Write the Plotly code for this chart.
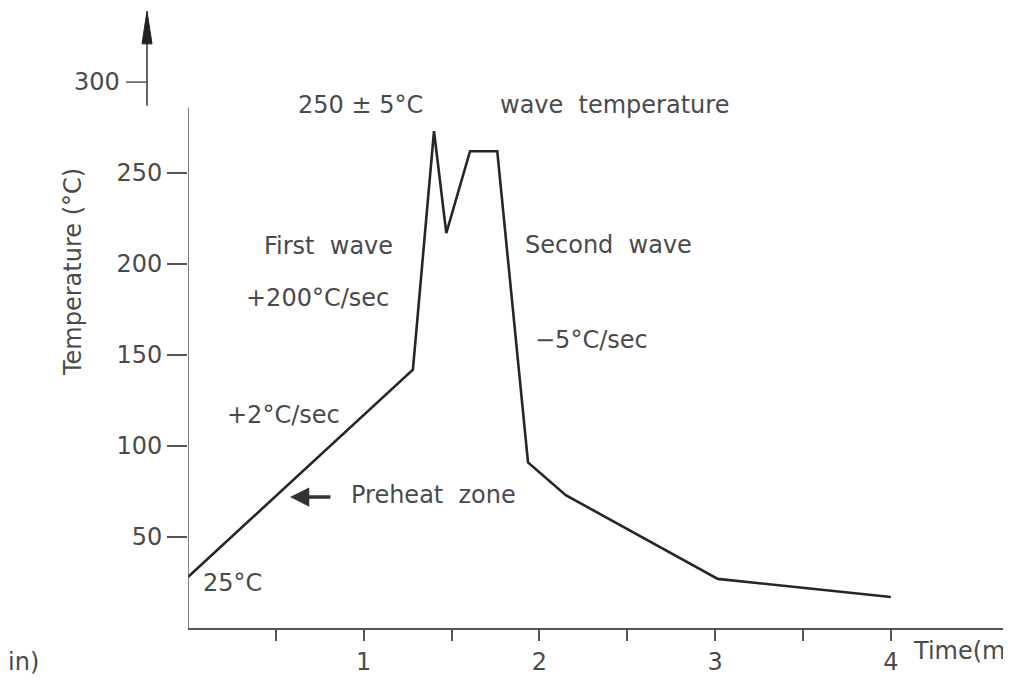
import plotly.graph_objects as go

# Data (time in minutes, temperature in °C)
time_min = [0.0, 1.28, 1.40, 1.47, 1.605, 1.76, 1.935, 2.15, 3.015, 4.0]
temp_c = [28, 142, 273, 217, 262, 262, 91, 73, 27, 17]

y_ticks = [50, 100, 150, 200, 250]
x_major = [1, 2, 3, 4]
x_labels = ["1", "2", "3", "4"]

TXT = "#4a4a4a"
FONT = "DejaVu Sans"
FS = 24

# page body has an 8px margin: plot area should span x 188..1007, y 10..628 in the window
W, H = 1003, 674
ML, MR, MT, MB = 180, 4, 2, 54
PW = W - ML - MR
PH = H - MT - MB

fig = go.Figure()
fig.add_trace(go.Scatter(x=time_min, y=temp_c, mode="lines",
                         line=dict(color="#262626", width=2.6),
                         hoverinfo="skip", showlegend=False, cliponaxis=False))

fig.update_layout(
    width=W, height=H,
    margin=dict(l=ML, r=MR, t=MT, b=MB, autoexpand=False),
    paper_bgcolor="white", plot_bgcolor="white",
    font=dict(family=FONT, color=TXT, size=FS),
)
fig.update_xaxes(range=[0, 4.661], showgrid=False, zeroline=False,
                 showline=True, linecolor="#555", linewidth=1.5,
                 tickvals=x_major, ticktext=x_labels, ticks="outside",
                 ticklen=11, tickwidth=1.5, tickcolor="#555",
                 tickfont=dict(size=FS, color=TXT),
                 minor=dict(tickvals=[0.5, 1.5, 2.5, 3.5], ticks="outside",
                            ticklen=11, tickwidth=1.5, tickcolor="#555"))
fig.update_yaxes(range=[0, 339.6], showgrid=False, zeroline=False,
                 showline=False, tickvals=y_ticks, ticks="outside",
                 ticklen=20, tickwidth=1.5, tickcolor="#555",
                 tickfont=dict(size=FS, color=TXT))

# y axis line (lower part) and shifted upper part with arrow
fig.add_shape(type="line", xref="x", yref="y", x0=0, x1=0, y0=0, y1=286,
              line=dict(color="#555", width=1.5))
fig.add_shape(type="line", xref="paper", yref="y", xsizemode="pixel", xanchor=0,
              x0=-41, x1=-41, y0=287, y1=322, line=dict(color="#333", width=1.5))
fig.add_shape(type="path", xref="paper", yref="y", xsizemode="pixel", xanchor=0,
              path="M -46,321 L -41,339 L -36,321 Z",
              fillcolor="#222", line=dict(color="#222", width=1))
# 300 tick on shifted segment
fig.add_shape(type="line", xref="paper", yref="y", xsizemode="pixel", xanchor=0,
              x0=-62, x1=-41, y0=300, y1=300, line=dict(color="#555", width=1.5))
fig.add_annotation(x=0, y=300, xref="paper", yref="y", xshift=-66, xanchor="right",
                   text="300", showarrow=False, font=dict(size=FS, color=TXT))

# x axis end mark
fig.add_shape(type="line", xref="paper", yref="y", x0=1, x1=1, y0=-2.5, y1=2.5,
              line=dict(color="#111", width=4))


def px2x(px):
    return (px - 188) / 175.7


def py2y(py):
    return (628 - py) / 1.82


labels = [
    ("First  wave", 328, 246),
    ("+200°C/sec", 317, 298),
    ("Second  wave", 608, 245),
    ("−5°C/sec", 591, 340),
    ("+2°C/sec", 283, 415),
    ("Preheat  zone", 433, 495),
    ("25°C", 232, 583),
    ("250 ± 5°C", 360, 105),
    ("wave  temperature", 614, 105),
]
for t, px, py in labels:
    fig.add_annotation(x=px2x(px), y=py2y(py), xref="x", yref="y", text=t,
                       showarrow=False, font=dict(size=FS, color=TXT, family=FONT))

# arrow pointing to the preheat line
fig.add_annotation(x=px2x(290), y=py2y(497), ax=px2x(332), ay=py2y(497),
                   xref="x", yref="y", axref="x", ayref="y", text="",
                   showarrow=True, arrowhead=2, arrowsize=1.1, arrowwidth=3.5,
                   arrowcolor="#333")


def wx(px):
    return (px - 8 - ML) / PW


def wy(py):
    return (H - MB - (py - 8)) / PH


# Axis titles
fig.add_annotation(x=wx(73), y=wy(272), xref="paper", yref="paper",
                   xanchor="center", yanchor="middle",
                   text="Temperature (°C)", showarrow=False, textangle=-90,
                   font=dict(size=FS, color=TXT))
fig.add_annotation(x=1, y=wy(651), xref="paper", yref="paper", xanchor="right",
                   yanchor="middle", text="Time(m", showarrow=False,
                   font=dict(size=FS, color=TXT))
fig.add_annotation(x=wx(6), y=wy(662), xref="paper", yref="paper", xanchor="left",
                   yanchor="middle", text="in)", showarrow=False,
                   font=dict(size=FS, color=TXT))

fig.write_html("out.html")
